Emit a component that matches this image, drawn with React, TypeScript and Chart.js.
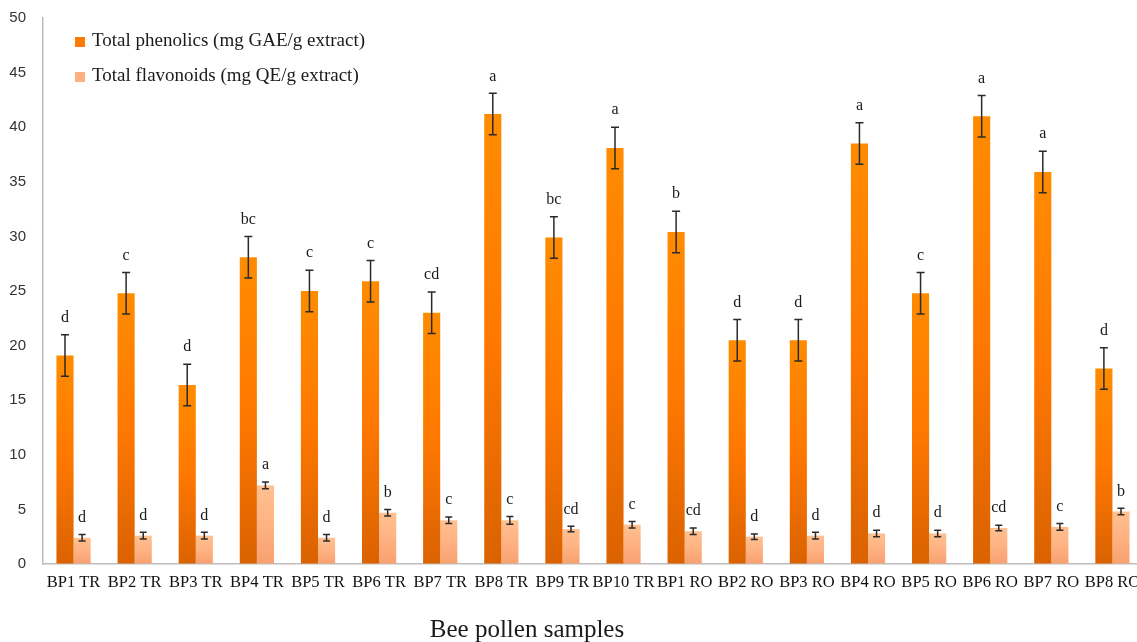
import React, { useEffect, useRef } from "react";
import { Chart, registerables } from "chart.js";

Chart.register(...registerables);

const categories = [
  "BP1 TR", "BP2 TR", "BP3 TR", "BP4 TR", "BP5 TR", "BP6 TR", "BP7 TR", "BP8 TR", "BP9 TR",
  "BP10 TR", "BP1 RO", "BP2 RO", "BP3 RO", "BP4 RO", "BP5 RO", "BP6 RO", "BP7 RO", "BP8 RO",
];

const phenolics = [19.1, 24.8, 16.4, 28.1, 25.0, 25.9, 23.0, 41.2, 29.9, 38.1, 30.4, 20.5, 20.5, 38.5, 24.8, 41.0, 35.9, 17.9];
const phenolicsErr = [1.9, 1.9, 1.9, 1.9, 1.9, 1.9, 1.9, 1.9, 1.9, 1.9, 1.9, 1.9, 1.9, 1.9, 1.9, 1.9, 1.9, 1.9];
const phenolicsLetters = ["d", "c", "d", "bc", "c", "c", "cd", "a", "bc", "a", "b", "d", "d", "a", "c", "a", "a", "d"];

const flavonoids = [2.4, 2.6, 2.6, 7.2, 2.4, 4.7, 4.0, 4.0, 3.2, 3.6, 3.0, 2.5, 2.6, 2.8, 2.8, 3.3, 3.4, 4.8];
const flavonoidsErr = [0.3, 0.3, 0.3, 0.3, 0.3, 0.3, 0.3, 0.35, 0.25, 0.3, 0.3, 0.25, 0.3, 0.3, 0.3, 0.25, 0.3, 0.3];
const flavonoidsLetters = ["d", "d", "d", "a", "d", "b", "c", "c", "cd", "c", "cd", "d", "d", "d", "d", "cd", "c", "b"];

const seriesNames = ["Total phenolics (mg GAE/g extract)", "Total flavonoids (mg QE/g extract)"];
const yTicks = [0, 5, 10, 15, 20, 25, 30, 35, 40, 45, 50];
const xTitle = "Bee pollen samples";

const SERIF = "'Liberation Serif', 'DejaVu Serif', serif";
const SANS = "'Liberation Sans', 'DejaVu Sans', sans-serif";

const errs = [phenolicsErr, flavonoidsErr];
const letters = [phenolicsLetters, flavonoidsLetters];

function makeGradient(ctx: any, colors: string[]) {
  const chart = ctx.chart;
  const area = chart.chartArea;
  if (!area || ctx.type !== "data") return colors[1];
  const y = chart.scales.y;
  const top = y.getPixelForValue(ctx.parsed.y);
  const bottom = y.getPixelForValue(0);
  if (!isFinite(top) || bottom - top < 1) return colors[1];
  const g = chart.ctx.createLinearGradient(0, top, 0, bottom);
  g.addColorStop(0, colors[0]);
  g.addColorStop(0.5, colors[1]);
  g.addColorStop(1, colors[2]);
  return g;
}

const overlayPlugin = {
  id: "overlay",
  afterDatasetsDraw(chart: any) {
    const ctx = chart.ctx;
    const y = chart.scales.y;
    ctx.save();
    chart.data.datasets.forEach((ds: any, di: number) => {
      const meta = chart.getDatasetMeta(di);
      meta.data.forEach((bar: any, i: number) => {
        const v = ds.data[i];
        const e = errs[di][i];
        const yt = y.getPixelForValue(v + e);
        const yb = y.getPixelForValue(v - e);
        const cap = di === 0 ? 4 : 3.5;
        ctx.strokeStyle = "#2a2a2a";
        ctx.lineWidth = 1.5;
        ctx.beginPath();
        ctx.moveTo(bar.x, yt);
        ctx.lineTo(bar.x, yb);
        ctx.moveTo(bar.x - cap, yt);
        ctx.lineTo(bar.x + cap, yt);
        ctx.moveTo(bar.x - cap, yb);
        ctx.lineTo(bar.x + cap, yb);
        ctx.stroke();
        ctx.fillStyle = "#1a1a1a";
        ctx.font = `16px ${SERIF}`;
        ctx.textAlign = "center";
        ctx.textBaseline = "middle";
        ctx.fillText(letters[di][i], bar.x, yt - 17);
      });
    });
    // legend
    const legendColors = ["#FF7A00", "#FFB07F"];
    const legendY = [41, 76];
    ctx.font = `19px ${SERIF}`;
    ctx.textAlign = "left";
    ctx.textBaseline = "middle";
    seriesNames.forEach((name, i) => {
      const cy = legendY[i];
      ctx.fillStyle = legendColors[i];
      ctx.fillRect(75, cy - 4, 10, 10);
      ctx.fillStyle = "#1a1a1a";
      ctx.fillText(name, 92, cy);
    });
    // x title
    ctx.font = `25px ${SERIF}`;
    ctx.textAlign = "center";
    ctx.fillStyle = "#1a1a1a";
    ctx.fillText(xTitle, 527, 630);
    ctx.restore();
  },
};

export default function App() {
  const ref = useRef<HTMLCanvasElement>(null);
  useEffect(() => {
    document.body.style.margin = "0";
    document.body.style.overflow = "hidden";
    const chart = new Chart(ref.current!, {
      type: "bar",
      data: {
        labels: categories,
        datasets: [
          {
            label: seriesNames[0],
            data: phenolics,
            backgroundColor: (c: any) => makeGradient(c, ["#FF8C00", "#FF7800", "#DA6200"]),
            borderWidth: 0,
            categoryPercentage: 0.56,
            barPercentage: 1.0,
          },
          {
            label: seriesNames[1],
            data: flavonoids,
            backgroundColor: (c: any) => makeGradient(c, ["#FFC090", "#FFB282", "#F8A070"]),
            borderWidth: 0,
            categoryPercentage: 0.56,
            barPercentage: 1.0,
          },
        ],
      },
      options: {
        responsive: false,
        animation: false,
        devicePixelRatio: 1,
        layout: { padding: { top: 18, left: 0, right: 0, bottom: 0 } },
        plugins: { legend: { display: false }, tooltip: { enabled: false } },
        scales: {
          x: {
            grid: { display: true, color: "transparent", drawTicks: false },
            border: { display: true, color: "#bdbdbd", width: 1.5 },
            ticks: {
              color: "#111",
              font: { family: SERIF, size: 16.5 },
              padding: 9,
              maxRotation: 0,
              autoSkip: false,
            },
            afterFit: (s: any) => {
              s.height = 78;
              s.paddingLeft = 0;
              s.paddingRight = 0;
            },
          },
          y: {
            min: 0,
            max: 50,
            afterBuildTicks: (s: any) => {
              s.ticks = yTicks.map((v) => ({ value: v }));
            },
            grid: { display: true, color: "transparent", drawTicks: false },
            border: { display: true, color: "#bdbdbd", width: 1.5 },
            ticks: {
              color: "#333",
              font: { family: SANS, size: 15 },
              padding: 17,
            },
            afterFit: (s: any) => {
              s.width = 43;
              s.paddingTop = 0;
              s.paddingBottom = 0;
            },
          },
        },
      },
      plugins: [overlayPlugin],
    });
    return () => chart.destroy();
  }, []);
  return (
    <div style={{ width: 1143, height: 642, overflow: "hidden" }}>
      <canvas ref={ref} width={1143} height={642} />
    </div>
  );
}
